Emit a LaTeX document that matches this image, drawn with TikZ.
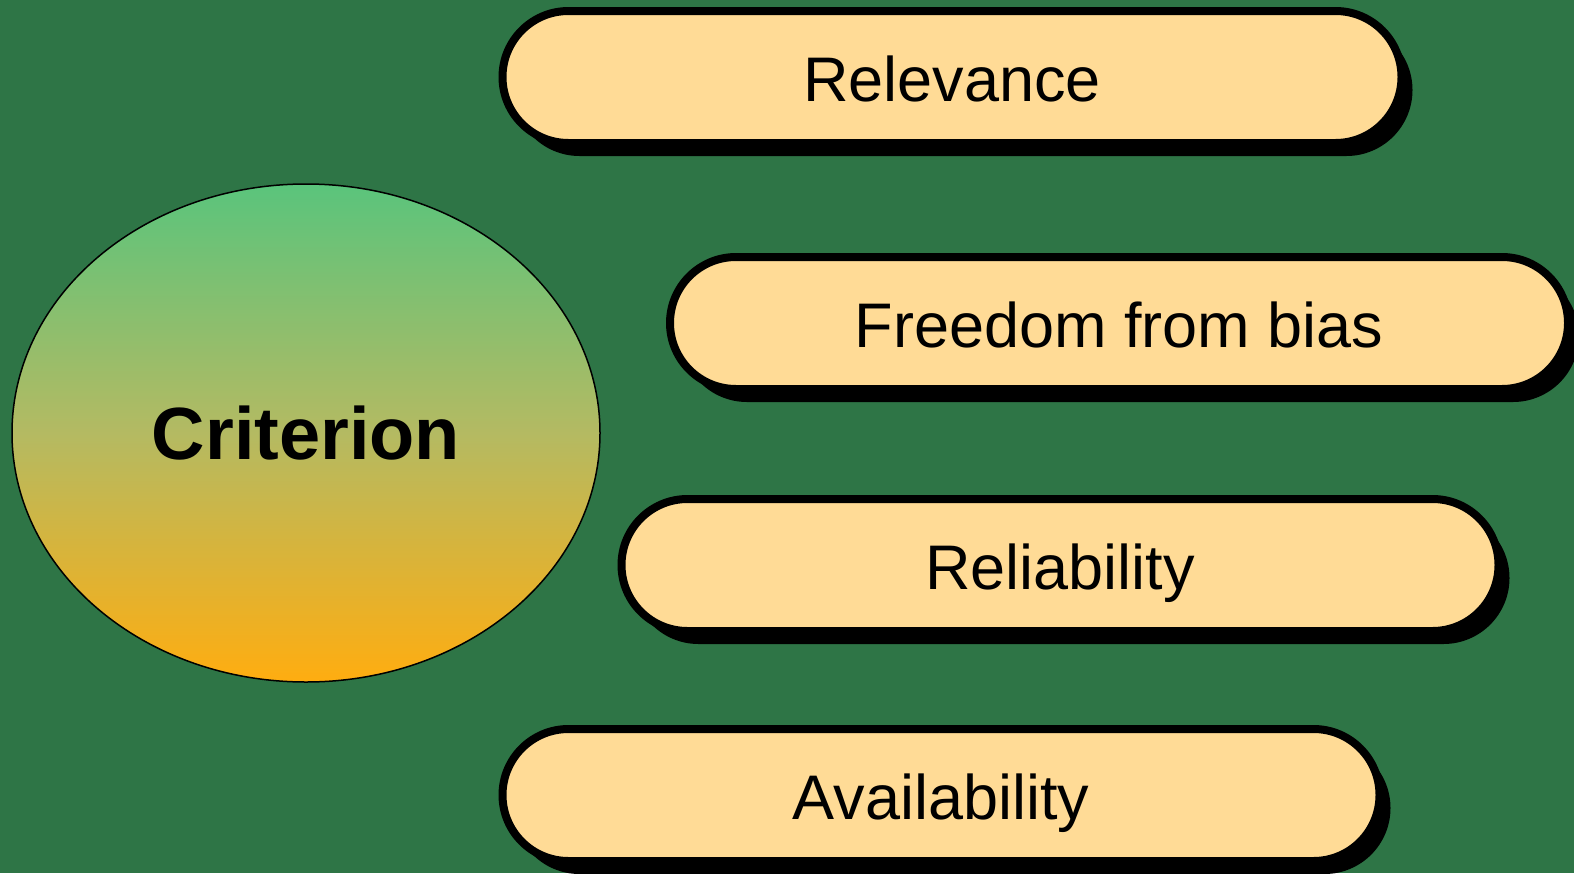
\documentclass[tikz,border=0pt]{standalone}
\usepackage{fontspec}
\setmainfont{Liberation Sans}
\usetikzlibrary{shapes.geometric, shapes.misc, shadows}
\definecolor{bggreen}{RGB}{46,117,70}
\definecolor{pillfill}{RGB}{255,219,150}
\definecolor{topgreen}{RGB}{90,196,124}
\definecolor{midolive}{RGB}{180,186,98}
\definecolor{botorange}{RGB}{255,173,16}

\begin{document}
\begin{tikzpicture}[x=1pt, y=-1pt,
	pill/.style={rounded rectangle, draw=black, line width=8pt, fill=pillfill,
		minimum height=132pt, inner sep=0pt, text height=48pt, text depth=0pt,
		drop shadow={shadow xshift=11pt, shadow yshift=-13pt, fill=black, opacity=1},
		font=\fontsize{63}{70}\selectfont},
	crit/.style={ellipse, draw=black, line width=1.5pt, top color=topgreen, bottom color=botorange,
		middle color=midolive, minimum width=588pt, minimum height=498pt, inner sep=0pt,
		font=\fontsize{74}{80}\selectfont\bfseries}]
	\useasboundingbox[fill=bggreen] (0,0) rectangle (1574,873);
	\node[crit] (criterion) at (306,433) {Criterion};
	\node[pill, minimum width=899pt] (relevance) at (952,77) {Relevance};
	\node[pill, minimum width=898pt] (freedom) at (1119,323) {Freedom from bias};
	\node[pill, minimum width=877pt] (reliability) at (1060,565) {Reliability};
	\node[pill, minimum width=877pt] (availability) at (941,795) {Availability};
\end{tikzpicture}
\end{document}
